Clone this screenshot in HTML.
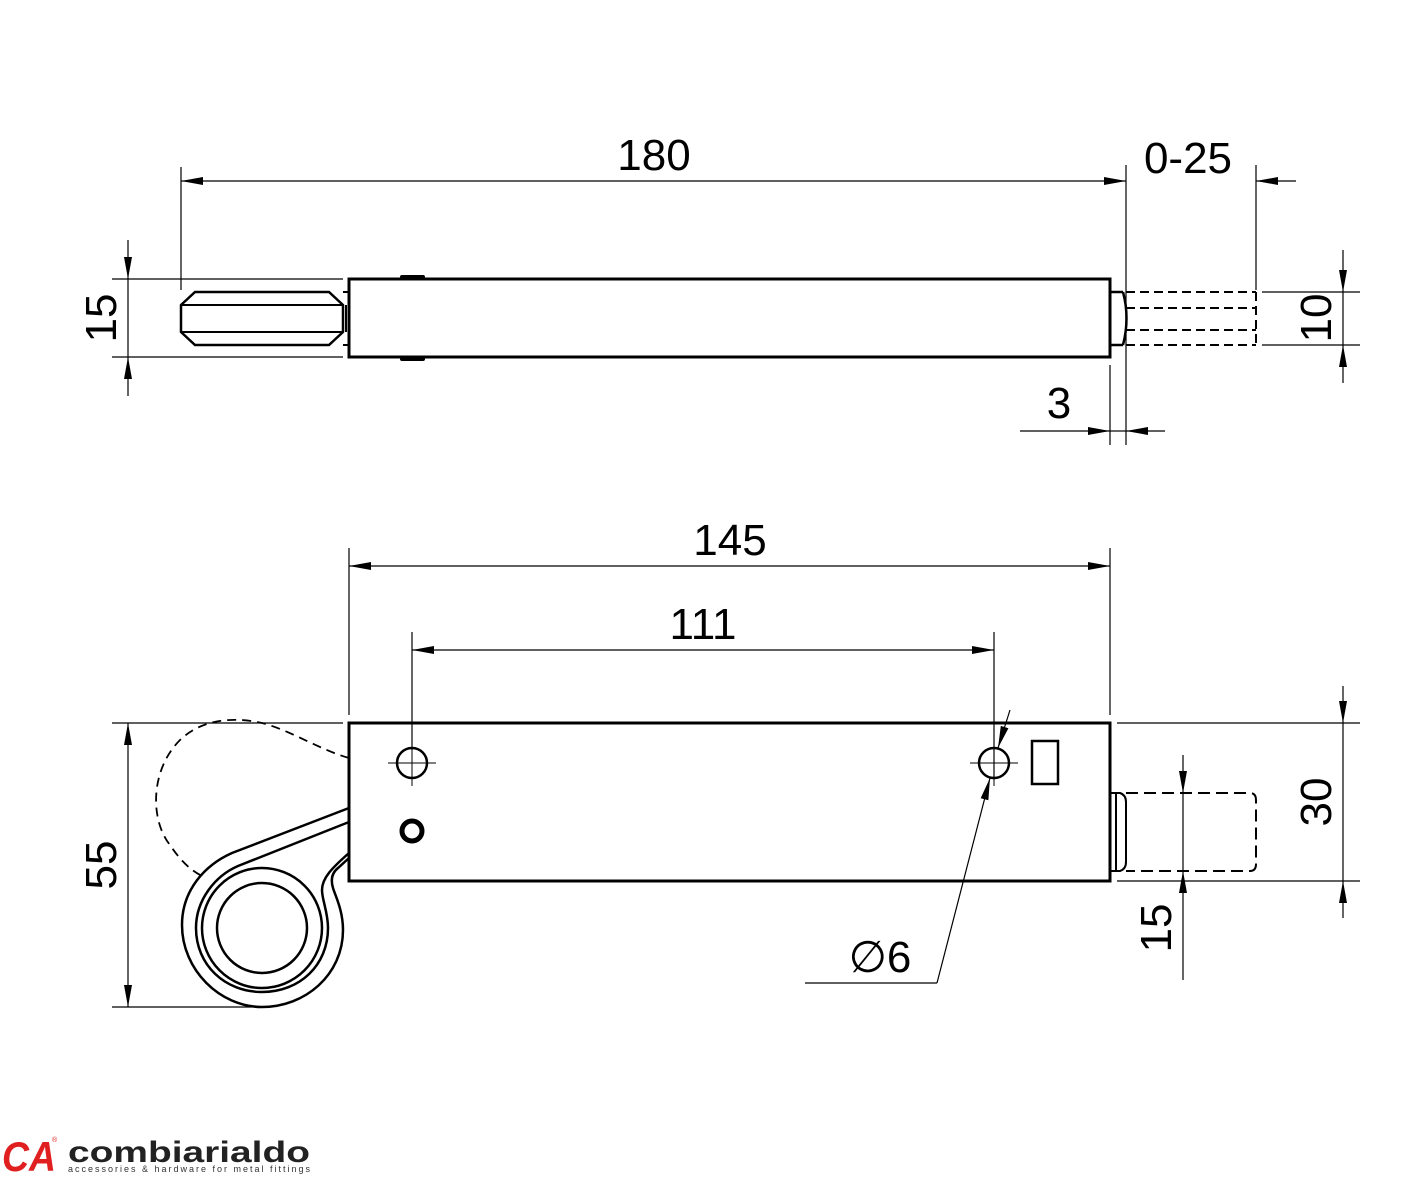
<!DOCTYPE html>
<html><head><meta charset="utf-8"><style>
html,body{margin:0;padding:0;background:#fff}
svg{display:block}
text{font-family:"Liberation Sans",sans-serif;fill:#000}
</style></head><body>
<svg width="1417" height="1181" viewBox="0 0 1417 1181" xmlns="http://www.w3.org/2000/svg">
<defs>
<marker id="a" viewBox="0 0 22 8" refX="22" refY="4" markerWidth="22" markerHeight="8" markerUnits="userSpaceOnUse" orient="auto"><path d="M0,0 L22,4 L0,8 Z" fill="#000"/></marker>
</defs>
<g stroke="#000" fill="none">
<rect x="349" y="279" width="761" height="78" stroke-width="3"/>
<rect x="400" y="275" width="25" height="4" fill="#000" stroke="none" rx="2"/>
<rect x="400" y="357" width="25" height="4" fill="#000" stroke="none" rx="2"/>
<path d="M195,292 L329,292 L343,305 L343,332 L329,345 L195,345 L181,332 L181,305 Z" stroke-width="2.5"/>
<path d="M181,305 H343 M181,332 H343 M343,292 H349 M343,345 H349 M346,305 V332" stroke-width="2"/>
<path d="M1110,292 H1123 M1110,345 H1123 M1123,292 Q1130,318 1123,345" stroke-width="2.5"/>
<path d="M1126,292 H1256 M1126,345 H1256 M1126,308 H1256 M1126,330 H1256 M1256,292 V345" stroke-width="2" stroke-dasharray="9,5"/>
<g stroke-width="1.2">
<line x1="181" y1="167" x2="181" y2="290"/>
<line x1="1126" y1="165" x2="1126" y2="445"/>
<line x1="1256" y1="165" x2="1256" y2="290"/>
<line x1="1110" y1="365" x2="1110" y2="445"/>
<line x1="212" y1="181" x2="181" y2="181" marker-end="url(#a)"/>
<line x1="212" y1="181" x2="1126" y2="181" marker-end="url(#a)"/>
<line x1="1296" y1="181" x2="1256" y2="181" marker-end="url(#a)"/>
<line x1="112" y1="279" x2="343" y2="279"/>
<line x1="112" y1="357" x2="343" y2="357"/>
<line x1="128" y1="240" x2="128" y2="279" marker-end="url(#a)"/>
<line x1="128" y1="396" x2="128" y2="357" marker-end="url(#a)"/>
<line x1="128" y1="279" x2="128" y2="357"/>
<line x1="1262" y1="292" x2="1360" y2="292"/>
<line x1="1262" y1="345" x2="1360" y2="345"/>
<line x1="1343" y1="250" x2="1343" y2="292" marker-end="url(#a)"/>
<line x1="1343" y1="383" x2="1343" y2="345" marker-end="url(#a)"/>
<line x1="1343" y1="292" x2="1343" y2="345"/>
<line x1="1020" y1="431" x2="1110" y2="431" marker-end="url(#a)"/>
<line x1="1165" y1="431" x2="1126" y2="431" marker-end="url(#a)"/>
<line x1="1110" y1="431" x2="1126" y2="431"/>
</g>
<rect x="349" y="723" width="761" height="158" stroke-width="3"/>
<circle cx="412" cy="763" r="15" stroke-width="2.5"/>
<circle cx="994" cy="763" r="15" stroke-width="2.5"/>
<path d="M388,763 H436 M412,740 V786 M970,763 H1018 M994,740 V786" stroke-width="1"/>
<circle cx="412" cy="831" r="10" stroke-width="5"/>
<rect x="1032" y="741" width="26" height="43" stroke-width="2.5"/>
<path d="M1110,793 H1120 Q1126,795 1126,802 V862 Q1126,869 1120,871 H1110 M1116,793 V871" stroke-width="2"/>
<path d="M1126,793 H1250 Q1256,793 1256,800 V864 Q1256,871 1250,871 H1126" stroke-width="2" stroke-dasharray="12,6"/>
<path d="M349,758 C320,750 290,730 262,723 C240,718 205,716 180,740 C150,770 150,820 170,845 C180,860 190,870 202,876" stroke-width="1.8" stroke-dasharray="9,6"/>
<path d="M349,808 L232,853 C205,865 182,890 182,925 C182,970 220,1007 262,1007 C305,1007 343,975 343,930 C343,910 335,895 333,888 C330,878 333,872 338,868 L349,858" stroke-width="2.5"/>
<path d="M349,822 L238,866 C215,876 196,900 196,928 C196,965 225,992 262,992 C300,992 328,965 328,928 C328,912 322,900 322,890 C322,878 332,868 349,853" stroke-width="2.5"/>
<circle cx="262" cy="928" r="60" stroke-width="2.5"/>
<circle cx="262" cy="928" r="45" stroke-width="2.5"/>
<g stroke-width="1.2">
<line x1="349" y1="548" x2="349" y2="715"/>
<line x1="1110" y1="548" x2="1110" y2="715"/>
<line x1="412" y1="632" x2="412" y2="750"/>
<line x1="994" y1="632" x2="994" y2="780"/>
<line x1="380" y1="566" x2="349" y2="566" marker-end="url(#a)"/>
<line x1="380" y1="566" x2="1110" y2="566" marker-end="url(#a)"/>
<line x1="440" y1="650" x2="412" y2="650" marker-end="url(#a)"/>
<line x1="440" y1="650" x2="994" y2="650" marker-end="url(#a)"/>
<line x1="112" y1="723" x2="343" y2="723"/>
<line x1="112" y1="1007" x2="262" y2="1007"/>
<line x1="1117" y1="723" x2="1360" y2="723"/>
<line x1="1117" y1="881" x2="1360" y2="881"/>
<line x1="128" y1="760" x2="128" y2="723" marker-end="url(#a)"/>
<line x1="128" y1="760" x2="128" y2="1007" marker-end="url(#a)"/>
<line x1="1343" y1="686" x2="1343" y2="723" marker-end="url(#a)"/>
<line x1="1343" y1="918" x2="1343" y2="881" marker-end="url(#a)"/>
<line x1="1343" y1="723" x2="1343" y2="881"/>
<line x1="1183" y1="755" x2="1183" y2="793" marker-end="url(#a)"/>
<line x1="1183" y1="980" x2="1183" y2="871" marker-end="url(#a)"/>
<line x1="1183" y1="793" x2="1183" y2="871"/>
<line x1="1010" y1="710" x2="998" y2="748" marker-end="url(#a)"/>
<line x1="937" y1="983" x2="990" y2="778" marker-end="url(#a)"/>
<line x1="937" y1="983" x2="805" y2="983"/>
</g>
</g>
<g font-size="44">
<text x="654" y="170" text-anchor="middle">180</text>
<text x="1188" y="173" text-anchor="middle">0-25</text>
<text x="1059" y="418" text-anchor="middle">3</text>
<text x="730" y="555" text-anchor="middle">145</text>
<text x="703" y="639" text-anchor="middle">111</text>
<text x="880" y="972" text-anchor="middle">∅6</text>
<text transform="translate(116,318) rotate(-90)" text-anchor="middle">15</text>
<text transform="translate(1331,318) rotate(-90)" text-anchor="middle">10</text>
<text transform="translate(116,865) rotate(-90)" text-anchor="middle">55</text>
<text transform="translate(1331,802) rotate(-90)" text-anchor="middle">30</text>
<text transform="translate(1171,928) rotate(-90)" text-anchor="middle">15</text>
</g>
<text x="2" y="1171" font-size="42" font-weight="bold" font-style="italic" textLength="54" lengthAdjust="spacingAndGlyphs" style="fill:#e02020">CA</text>
<text x="52" y="1142" font-size="7" style="fill:#e02020">®</text>
<text x="68" y="1162" font-size="30" font-weight="bold" textLength="242" lengthAdjust="spacingAndGlyphs" style="fill:#222">combiarialdo</text>
<text x="68" y="1172" font-size="9" style="fill:#333" textLength="242">accessories &amp; hardware for metal fittings</text>
</svg>
</body></html>
